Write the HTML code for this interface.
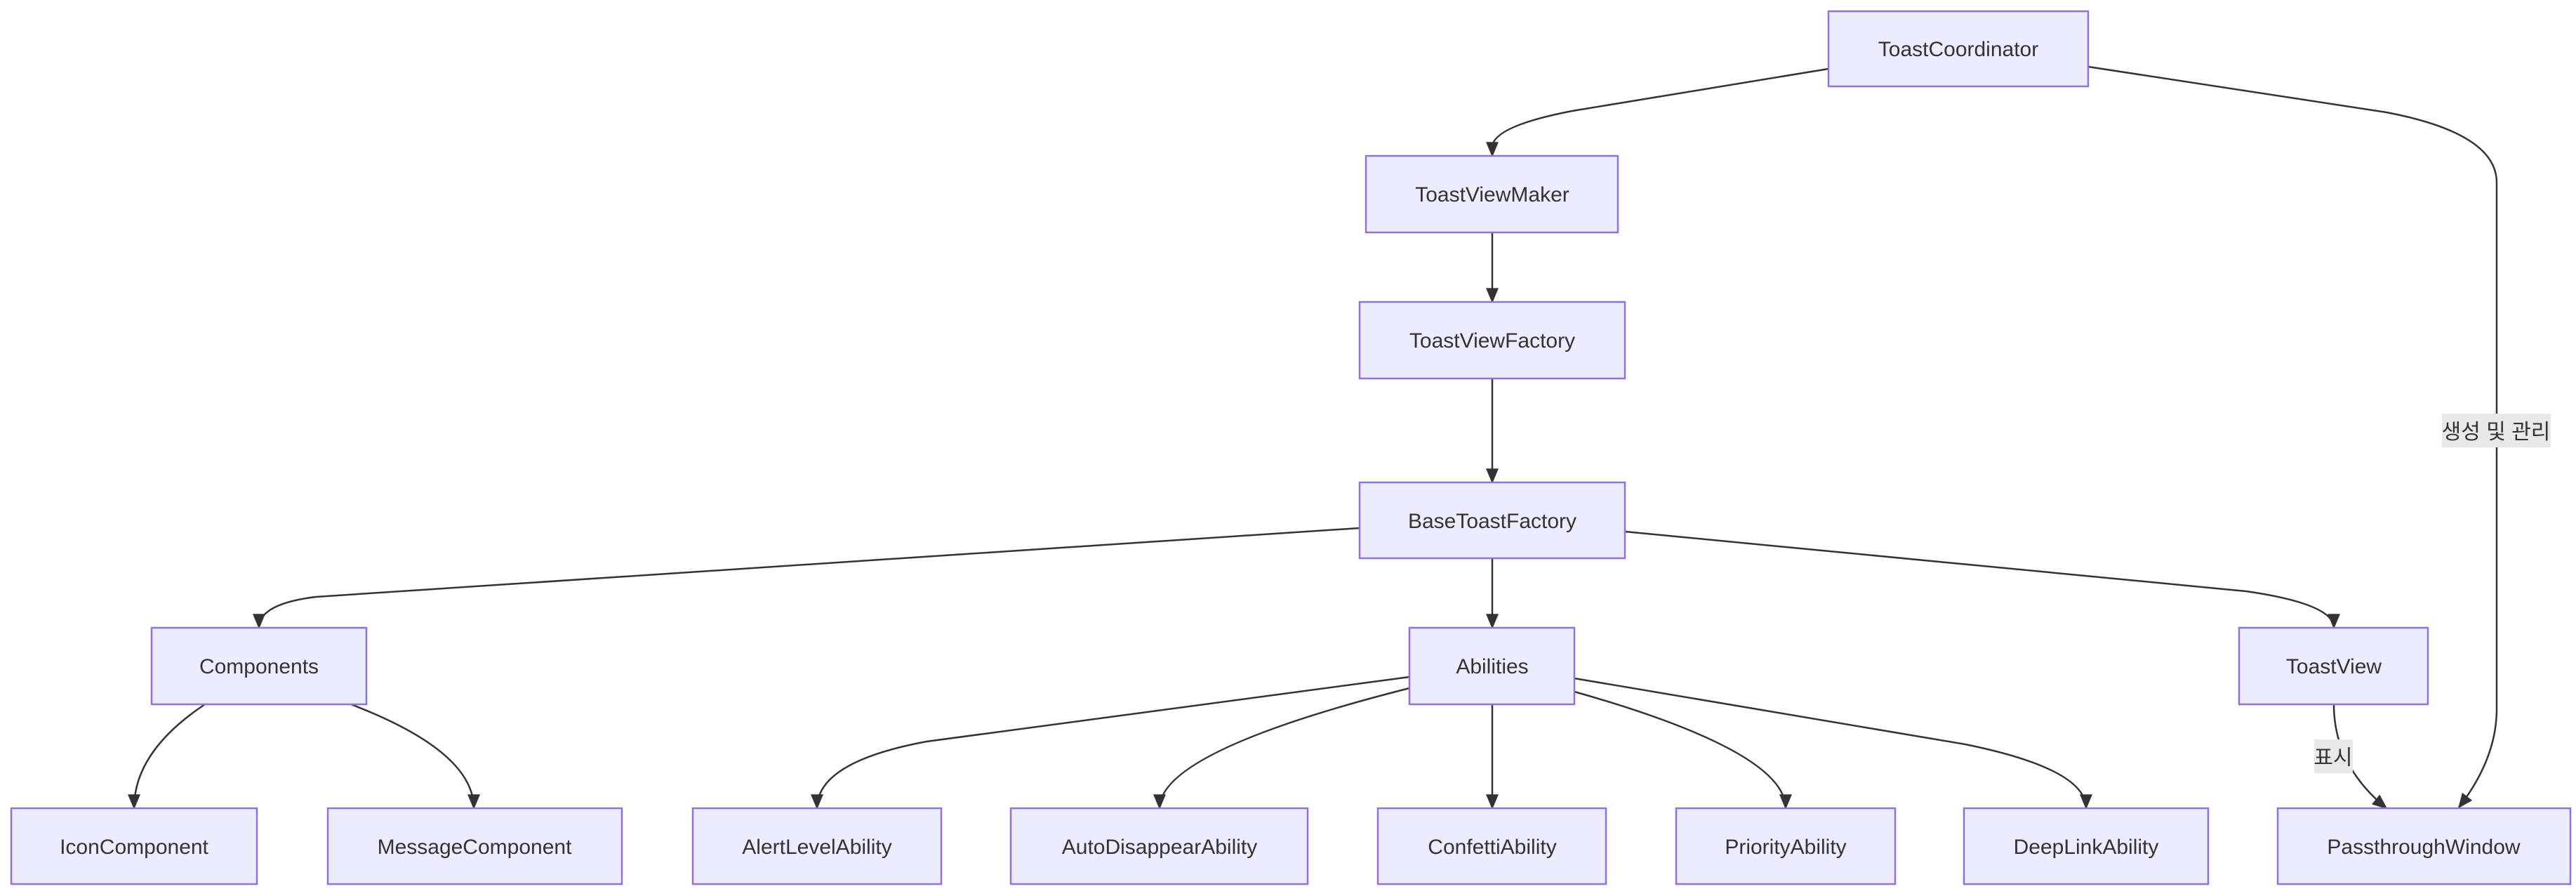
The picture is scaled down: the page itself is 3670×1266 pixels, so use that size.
<!DOCTYPE html>
<html><head><meta charset="utf-8"><style>
html,body{margin:0;padding:0;background:#fff;width:3670px;height:1266px;overflow:hidden}
svg{display:block}
text{font-family:"Liberation Sans","Noto Sans CJK KR",sans-serif;font-size:30px;fill:#333}
.n{fill:#ECECFF;stroke:#9370DB;stroke-width:2.5}
.e{fill:none;stroke:#333;stroke-width:2.5}
.lb{fill:#e8e8e8}
</style></head><body>
<svg width="3670" height="1266" viewBox="0 0 3670 1266" xmlns="http://www.w3.org/2000/svg">
<defs><marker id="a" viewBox="0 0 10 10" refX="9" refY="5" markerWidth="10" markerHeight="10" markerUnits="userSpaceOnUse" orient="auto"><path d="M0,0 L10,5 L0,10 z" fill="#333"/></marker>
<marker id="b" viewBox="0 0 12 10" refX="11" refY="5" markerWidth="22" markerHeight="18" markerUnits="userSpaceOnUse" orient="auto"><path d="M0,0 L12,5 L0,10 z" fill="#333"/></marker></defs>

<g class="e">
<path marker-end="url(#b)" d="M2605,98 L2240,158 Q2126,180 2126,210 L2126,222"/>
<path marker-end="url(#b)" d="M2975,95 L3400,160 Q3557,190 3557,260 L3557,1010 Q3557,1080 3503,1150"/>
<path marker-end="url(#b)" d="M2126,331 L2126,430"/>
<path marker-end="url(#b)" d="M2126,539 L2126,687"/>
<path marker-end="url(#b)" d="M1937,752 L450,850 Q369,860 369,894"/>
<path marker-end="url(#b)" d="M2126,795 L2126,894"/>
<path marker-end="url(#b)" d="M2315,757 L3200,842 Q3325,860 3325,894"/>
<path marker-end="url(#b)" d="M292,1003 Q191,1070 191,1151"/>
<path marker-end="url(#b)" d="M500,1003 Q675,1070 675,1151"/>
<path marker-end="url(#b)" d="M2008,964 L1320,1056 Q1164,1085 1164,1151"/>
<path marker-end="url(#b)" d="M2008,980 Q1652,1070 1652,1151"/>
<path marker-end="url(#b)" d="M2126,1003 L2126,1151"/>
<path marker-end="url(#b)" d="M2243,985 Q2544,1070 2544,1151"/>
<path marker-end="url(#b)" d="M2243,966 L2800,1060 Q2972,1095 2972,1151"/>
<path marker-end="url(#b)" d="M3325,1003 Q3325,1090 3400,1151"/>
</g>

<rect class="lb" x="3479" y="589" width="155" height="48"/>
<text x="3556" y="625" text-anchor="middle">생성 및 관리</text>
<rect class="lb" x="3297" y="1053" width="55" height="48"/>
<text x="3324" y="1089" text-anchor="middle">표시</text>

<g>
<rect class="n" x="2605" y="16" width="370" height="107"/><text x="2790" y="80" text-anchor="middle">ToastCoordinator</text>
<rect class="n" x="1946" y="222" width="359" height="109"/><text x="2126" y="287" text-anchor="middle">ToastViewMaker</text>
<rect class="n" x="1937" y="430" width="378" height="109"/><text x="2126" y="495" text-anchor="middle">ToastViewFactory</text>
<rect class="n" x="1937" y="687" width="378" height="108"/><text x="2126" y="752" text-anchor="middle">BaseToastFactory</text>
<rect class="n" x="216" y="894" width="306" height="109"/><text x="369" y="959" text-anchor="middle">Components</text>
<rect class="n" x="2008" y="894" width="235" height="109"/><text x="2126" y="959" text-anchor="middle">Abilities</text>
<rect class="n" x="3190" y="894" width="269" height="109"/><text x="3325" y="959" text-anchor="middle">ToastView</text>
<rect class="n" x="16" y="1151" width="350" height="108"/><text x="191" y="1216" text-anchor="middle">IconComponent</text>
<rect class="n" x="467" y="1151" width="419" height="108"/><text x="676" y="1216" text-anchor="middle">MessageComponent</text>
<rect class="n" x="987" y="1151" width="354" height="108"/><text x="1164" y="1216" text-anchor="middle">AlertLevelAbility</text>
<rect class="n" x="1440" y="1151" width="423" height="108"/><text x="1652" y="1216" text-anchor="middle">AutoDisappearAbility</text>
<rect class="n" x="1963" y="1151" width="325" height="108"/><text x="2126" y="1216" text-anchor="middle">ConfettiAbility</text>
<rect class="n" x="2388" y="1151" width="312" height="108"/><text x="2544" y="1216" text-anchor="middle">PriorityAbility</text>
<rect class="n" x="2798" y="1151" width="348" height="108"/><text x="2972" y="1216" text-anchor="middle">DeepLinkAbility</text>
<rect class="n" x="3245" y="1151" width="417" height="108"/><text x="3453" y="1216" text-anchor="middle">PassthroughWindow</text>
</g>
</svg>
</body></html>
